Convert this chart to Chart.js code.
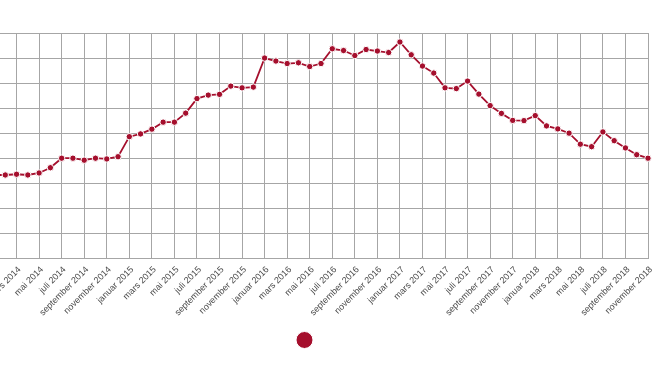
<!DOCTYPE html>
<html><head><meta charset="utf-8">
<script src="https://cdn.jsdelivr.net/npm/chart.js@4"></script>
<style>
html,body{margin:0;padding:0;background:#fff;overflow:hidden;width:660px;height:371px;}
#wrap{position:absolute;left:-38px;top:0;width:691px;height:371px;}
</style></head><body>
<div id="wrap"><canvas id="c" width="691" height="371"></canvas></div>
<script>
const monthNames = ['januar','februar','mars','april','mai','juni','juli','august','september','oktober','november','desember'];
const years = [2014, 2015, 2016, 2017, 2018];
const lastMonthOf2018 = 10; // november
const categories = [];
years.forEach(y => monthNames.forEach((m, i) => {
  if (y < 2018 || i <= lastMonthOf2018) categories.push(m + ' ' + y);
}));

const values2014 = [33.3, 33.3, 33.6, 33.3, 34.1, 36.2, 40.0, 40.0, 39.2, 40.0, 39.7, 40.6];
const values2015 = [48.6, 49.7, 51.6, 54.4, 54.4, 58.0, 63.8, 65.2, 65.5, 68.8, 68.1, 68.4];
const values2016 = [80.0, 78.8, 77.8, 78.1, 76.6, 77.8, 83.7, 83.0, 81.0, 83.4, 82.8, 82.2];
const values2017 = [86.4, 81.3, 76.8, 74.0, 68.1, 67.8, 70.8, 65.6, 61.0, 57.9, 55.1, 55.0];
const values2018 = [57.0, 52.9, 51.7, 50.0, 45.6, 44.6, 50.5, 47.0, 44.1, 41.4, 40.0];
const values = [].concat(values2014, values2015, values2016, values2017, values2018);

const yTicks = [0, 10, 20, 30, 40, 50, 60, 70, 80, 90];

const red = '#a50f2d';
const gridColor = '#a6a6a6';

new Chart(document.getElementById('c'), {
  type: 'line',
  data: {
    labels: categories,
    datasets: [{
      label: '',
      data: values,
      borderColor: red,
      backgroundColor: red,
      borderWidth: 1.8,
      pointRadius: 3.2,
      pointBorderWidth: 1,
      pointBorderColor: '#ffffff',
      pointBackgroundColor: red,
      tension: 0
    }]
  },
  options: {
    responsive: false,
    animation: false,
    devicePixelRatio: 1,
    layout: { padding: { top: 33, bottom: 15, left: 0, right: 0 } },
    plugins: {
      tooltip: { enabled: false },
      legend: {
        position: 'bottom',
        labels: {
          usePointStyle: true,
          pointStyle: 'circle',
          boxWidth: 12,
          boxHeight: 12,
          padding: 10,
          font: { size: 12, family: 'Liberation Sans, Arial, sans-serif' }
        }
      }
    },
    scales: {
      x: {
        afterFit: s => { s.paddingLeft = 0; s.paddingRight = 0; },
        grid: {
          drawTicks: false,
          color: ctx => (ctx.index % 2 === 0 ? gridColor : 'rgba(0,0,0,0)'),
          lineWidth: 1
        },
        border: { display: true, color: gridColor },
        ticks: {
          autoSkip: false,
          minRotation: 45,
          maxRotation: 45,
          padding: 6,
          labelOffset: 3,
          color: '#4a4a4a',
          font: { size: 9, family: 'Liberation Sans, Arial, sans-serif' },
          callback: (v, i) => (i % 2 === 0 ? categories[i] : '')
        }
      },
      y: {
        min: yTicks[0],
        max: yTicks[yTicks.length - 1],
        afterBuildTicks: s => { s.ticks = yTicks.map(v => ({ value: v })); },
        afterFit: s => { s.width = 32; },
        grid: { drawTicks: false, color: gridColor, lineWidth: 1 },
        border: { display: false },
        ticks: { display: false }
      }
    }
  }
});
</script>
</body></html>
